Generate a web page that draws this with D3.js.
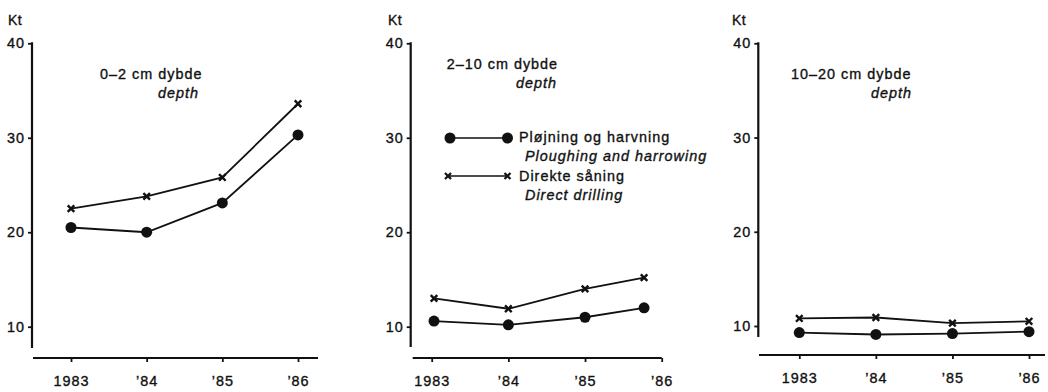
<!DOCTYPE html>
<html>
<head>
<meta charset="utf-8">
<script src="https://cdn.jsdelivr.net/npm/d3@7"></script>
<style>
  html, body { margin: 0; padding: 0; background: #fff; }
  svg { display: block; }
  text { font-family: "Liberation Sans", Arial, Helvetica, sans-serif; fill: #111; stroke: #111; stroke-width: 0.35px; }
</style>
</head>
<body>
<svg id="chart" width="1048" height="392"></svg>
<script>
// ---- data ----
const years = [1983, 1984, 1985, 1986];
const yearLabels = ["1983", "’84", "’85", "’86"];
const yTicks = [10, 20, 30, 40];
const unitLabel = "Kt";
const panelTitles = ["0–2 cm dybde", "2–10 cm dybde", "10–20 cm dybde"];
const panelSubtitles = ["depth", "depth", "depth"];
const pointYears0_2 = [1983, 1984, 1985, 1986];
const pointYears2_10 = [1983.03, 1984, 1985, 1985.77];
const pointYears10_20 = [1983, 1984, 1985, 1986];
const ploughing0_2 = [20.5, 20.0, 23.1, 30.3];
const drilling0_2 = [22.5, 23.8, 25.8, 33.6];
const ploughing2_10 = [10.6, 10.2, 11.0, 12.0];
const drilling2_10 = [13.0, 11.9, 14.0, 15.2];
const ploughing10_20 = [9.3, 9.1, 9.2, 9.4];
const drilling10_20 = [10.8, 10.9, 10.3, 10.5];
const legendNames = ["Pløjning og harvning", "Direkte såning"];
const legendNamesEn = ["Ploughing and harrowing", "Direct drilling"];

// ---- layout (positions only) ----
const layouts = [
  { axisX: 32, y40: 43.3, y10: 326.7, yBottom: 348, xAxisY: 358, xLeft: 33, xRight: 318, x1983: 71, x1986: 298, ktX: 8, titleX: 100, titleY: 78.5, subX: 158, subY: 98 },
  { axisX: 410.7, y40: 43.3, y10: 326.7, yBottom: 347, xAxisY: 358, xLeft: 412.7, xRight: 661.7, x1983: 431.7, x1986: 661.7, ktX: 388, titleX: 446.7, titleY: 69, subX: 516, subY: 88 },
  { axisX: 758.3, y40: 43.3, y10: 326, yBottom: 337, xAxisY: 355, xLeft: 759, xRight: 1045, x1983: 799.3, x1986: 1029, ktX: 732, titleX: 791, titleY: 78.5, subX: 871, subY: 98 }
];
const panels = [
  { px: pointYears0_2, plough: ploughing0_2, drill: drilling0_2 },
  { px: pointYears2_10, plough: ploughing2_10, drill: drilling2_10 },
  { px: pointYears10_20, plough: ploughing10_20, drill: drilling10_20 }
];

const svg = d3.select("#chart");
const FS = 14.4, LS = "1px";

function crossPath(cx, cy, h) {
  return `M${cx - h},${cy - h}L${cx + h},${cy + h}M${cx - h},${cy + h}L${cx + h},${cy - h}`;
}

panels.forEach((p, i) => {
  const L = layouts[i];
  const g = svg.append("g");
  const y = d3.scaleLinear().domain([10, 40]).range([L.y10, L.y40]);
  const x = d3.scaleLinear().domain([1983, 1986]).range([L.x1983, L.x1986]);

  // y axis
  const ya = g.append("g").attr("transform", `translate(${L.axisX},0)`)
    .call(d3.axisLeft(y).tickValues(yTicks).tickSize(4).tickPadding(3).tickSizeOuter(0));
  ya.select(".domain").remove();
  ya.append("line").attr("x1", 0).attr("x2", 0).attr("y1", L.y40 - 1).attr("y2", L.yBottom)
    .attr("stroke", "#111").attr("stroke-width", 2.2);
  ya.selectAll(".tick line").attr("stroke", "#111").attr("stroke-width", 1.8);
  ya.selectAll(".tick text").attr("font-size", FS).style("letter-spacing", LS)
    .attr("font-family", "Liberation Sans, Arial, sans-serif").attr("fill", "#111");

  // x axis
  const xa = g.append("g").attr("transform", `translate(0,${L.xAxisY})`)
    .call(d3.axisBottom(x).tickValues(years).tickFormat((d, k) => yearLabels[k]).tickSize(4).tickPadding(14).tickSizeOuter(0));
  xa.select(".domain").remove();
  xa.append("line").attr("x1", L.xLeft).attr("x2", L.xRight).attr("y1", 0).attr("y2", 0)
    .attr("stroke", "#111").attr("stroke-width", 2.2);
  xa.selectAll(".tick line").attr("stroke", "#111").attr("stroke-width", 1.8);
  xa.selectAll(".tick text").attr("font-size", FS).style("letter-spacing", LS)
    .attr("font-family", "Liberation Sans, Arial, sans-serif").attr("fill", "#111");

  // unit label
  g.append("text").attr("x", L.ktX).attr("y", 25).attr("font-size", 14).style("letter-spacing", "0.5px").text(unitLabel);

  // titles
  g.append("text").attr("x", L.titleX).attr("y", L.titleY).attr("font-size", FS).style("letter-spacing", LS).text(panelTitles[i]);
  g.append("text").attr("x", L.subX).attr("y", L.subY).attr("font-size", FS).style("letter-spacing", LS)
    .attr("font-style", "italic").text(panelSubtitles[i]);

  const line = d3.line().x(d => x(d[0])).y(d => y(d[1]));
  const ploughPts = p.px.map((d, k) => [d, p.plough[k]]);
  const drillPts = p.px.map((d, k) => [d, p.drill[k]]);

  g.append("path").attr("d", line(drillPts)).attr("fill", "none").attr("stroke", "#111").attr("stroke-width", 1.8);
  g.append("path").attr("d", line(ploughPts)).attr("fill", "none").attr("stroke", "#111").attr("stroke-width", 1.8);

  g.selectAll(".pt").data(ploughPts).enter().append("circle")
    .attr("cx", d => x(d[0])).attr("cy", d => y(d[1])).attr("r", 5.5).attr("fill", "#111");
  g.selectAll(".cr").data(drillPts).enter().append("path")
    .attr("d", d => crossPath(x(d[0]), y(d[1]), 3.3))
    .attr("stroke", "#111").attr("stroke-width", 2.4).attr("fill", "none");
});

// legend (in middle panel)
const lg = svg.append("g");
const lx1 = 450, lx2 = 507.5, ly1 = 138, ly2 = 176, tx = 519, txi = 525;
lg.append("line").attr("x1", lx1).attr("x2", lx2).attr("y1", ly1).attr("y2", ly1).attr("stroke", "#111").attr("stroke-width", 1.3);
lg.append("circle").attr("cx", lx1).attr("cy", ly1).attr("r", 5.5).attr("fill", "#111");
lg.append("circle").attr("cx", lx2).attr("cy", ly1).attr("r", 5.5).attr("fill", "#111");
lg.append("line").attr("x1", lx1 - 2).attr("x2", lx2).attr("y1", ly2).attr("y2", ly2).attr("stroke", "#111").attr("stroke-width", 1.3);
lg.append("path").attr("d", crossPath(lx1 - 2, ly2, 3)).attr("stroke", "#111").attr("stroke-width", 2.2);
lg.append("path").attr("d", crossPath(lx2, ly2, 3)).attr("stroke", "#111").attr("stroke-width", 2.2);
lg.append("text").attr("x", tx).attr("y", 142).attr("font-size", FS).style("letter-spacing", LS).text(legendNames[0]);
lg.append("text").attr("x", txi).attr("y", 161).attr("font-size", FS).style("letter-spacing", LS).attr("font-style", "italic").text(legendNamesEn[0]);
lg.append("text").attr("x", tx).attr("y", 181).attr("font-size", FS).style("letter-spacing", LS).text(legendNames[1]);
lg.append("text").attr("x", txi).attr("y", 199.5).attr("font-size", FS).style("letter-spacing", LS).attr("font-style", "italic").text(legendNamesEn[1]);
</script>
</body>
</html>
